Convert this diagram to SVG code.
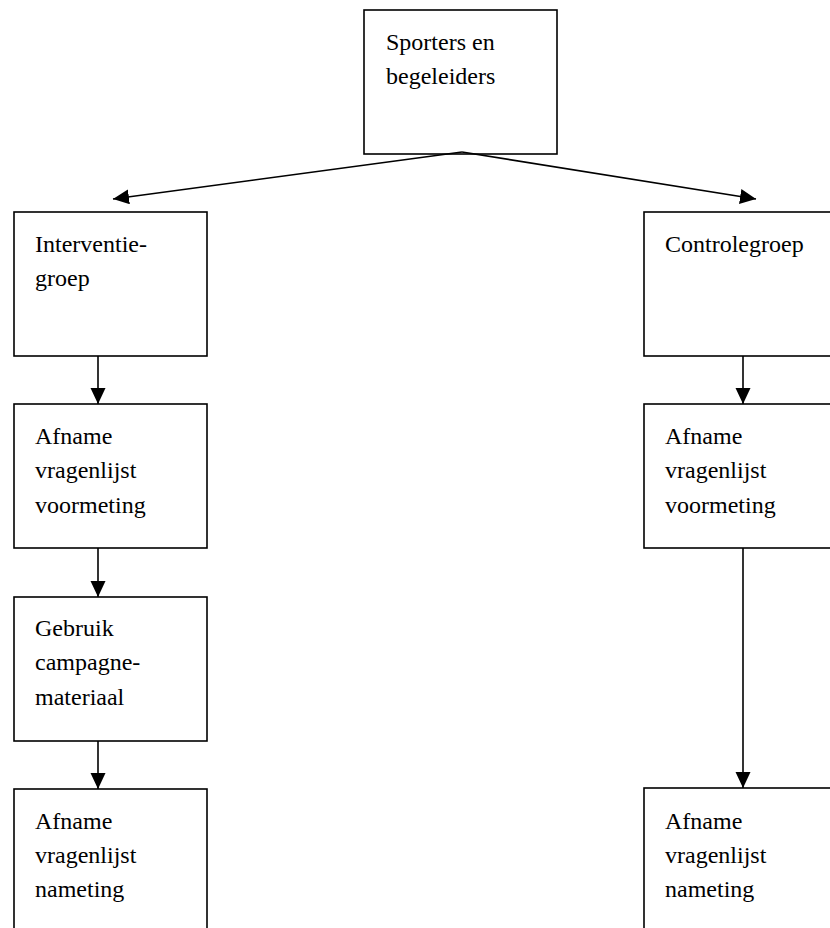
<svg xmlns="http://www.w3.org/2000/svg" width="830" height="928" viewBox="0 0 830 928">
<style>
.box{fill:#fff;stroke:#000;stroke-width:1.6}
.t{font-family:"Liberation Serif","Times New Roman",serif;font-size:24px;fill:#000}
.c{fill:none;stroke:#000;stroke-width:1.6}
</style>
<defs>
<marker id="ah" markerUnits="userSpaceOnUse" markerWidth="17" markerHeight="16" refX="16" refY="7.5" orient="auto">
<path d="M0,0 L16,7.5 L0,15 z" fill="#000"/>
</marker>
</defs>
<rect width="830" height="928" fill="#fff"/>
<g id="n0">
<rect class="box" x="364" y="10" width="193" height="144"/>
<text class="t" x="386" y="50">Sporters en</text>
<text class="t" x="386" y="84">begeleiders</text>
</g>
<g id="n1">
<rect class="box" x="14" y="212" width="193" height="144"/>
<text class="t" x="35" y="252">Interventie-</text>
<text class="t" x="35" y="286">groep</text>
</g>
<g id="n2">
<rect class="box" x="14" y="404" width="193" height="144"/>
<text class="t" x="35" y="444">Afname</text>
<text class="t" x="35" y="478">vragenlijst</text>
<text class="t" x="35" y="513">voormeting</text>
</g>
<g id="n3">
<rect class="box" x="14" y="597" width="193" height="144"/>
<text class="t" x="35" y="636">Gebruik</text>
<text class="t" x="35" y="670">campagne-</text>
<text class="t" x="35" y="705">materiaal</text>
</g>
<g id="n4">
<rect class="box" x="14" y="789" width="193" height="150"/>
<text class="t" x="35" y="829">Afname</text>
<text class="t" x="35" y="863">vragenlijst</text>
<text class="t" x="35" y="897">nameting</text>
</g>
<g id="n5">
<rect class="box" x="644" y="212" width="193" height="144"/>
<text class="t" x="665" y="252">Controlegroep</text>
</g>
<g id="n6">
<rect class="box" x="644" y="404" width="193" height="144"/>
<text class="t" x="665" y="444">Afname</text>
<text class="t" x="665" y="478">vragenlijst</text>
<text class="t" x="665" y="513">voormeting</text>
</g>
<g id="n7">
<rect class="box" x="644" y="788" width="193" height="150"/>
<text class="t" x="665" y="829">Afname</text>
<text class="t" x="665" y="863">vragenlijst</text>
<text class="t" x="665" y="897">nameting</text>
</g>
<g id="connectors">
<line class="c" x1="462" y1="152" x2="113" y2="199" marker-end="url(#ah)"/>
<line class="c" x1="462" y1="152" x2="756" y2="199" marker-end="url(#ah)"/>
<line class="c" x1="98" y1="356" x2="98" y2="404" marker-end="url(#ah)"/>
<line class="c" x1="98" y1="548" x2="98" y2="597" marker-end="url(#ah)"/>
<line class="c" x1="98" y1="741" x2="98" y2="789" marker-end="url(#ah)"/>
<line class="c" x1="743" y1="356" x2="743" y2="404" marker-end="url(#ah)"/>
<line class="c" x1="743" y1="548" x2="743" y2="788" marker-end="url(#ah)"/>
</g>
</svg>
